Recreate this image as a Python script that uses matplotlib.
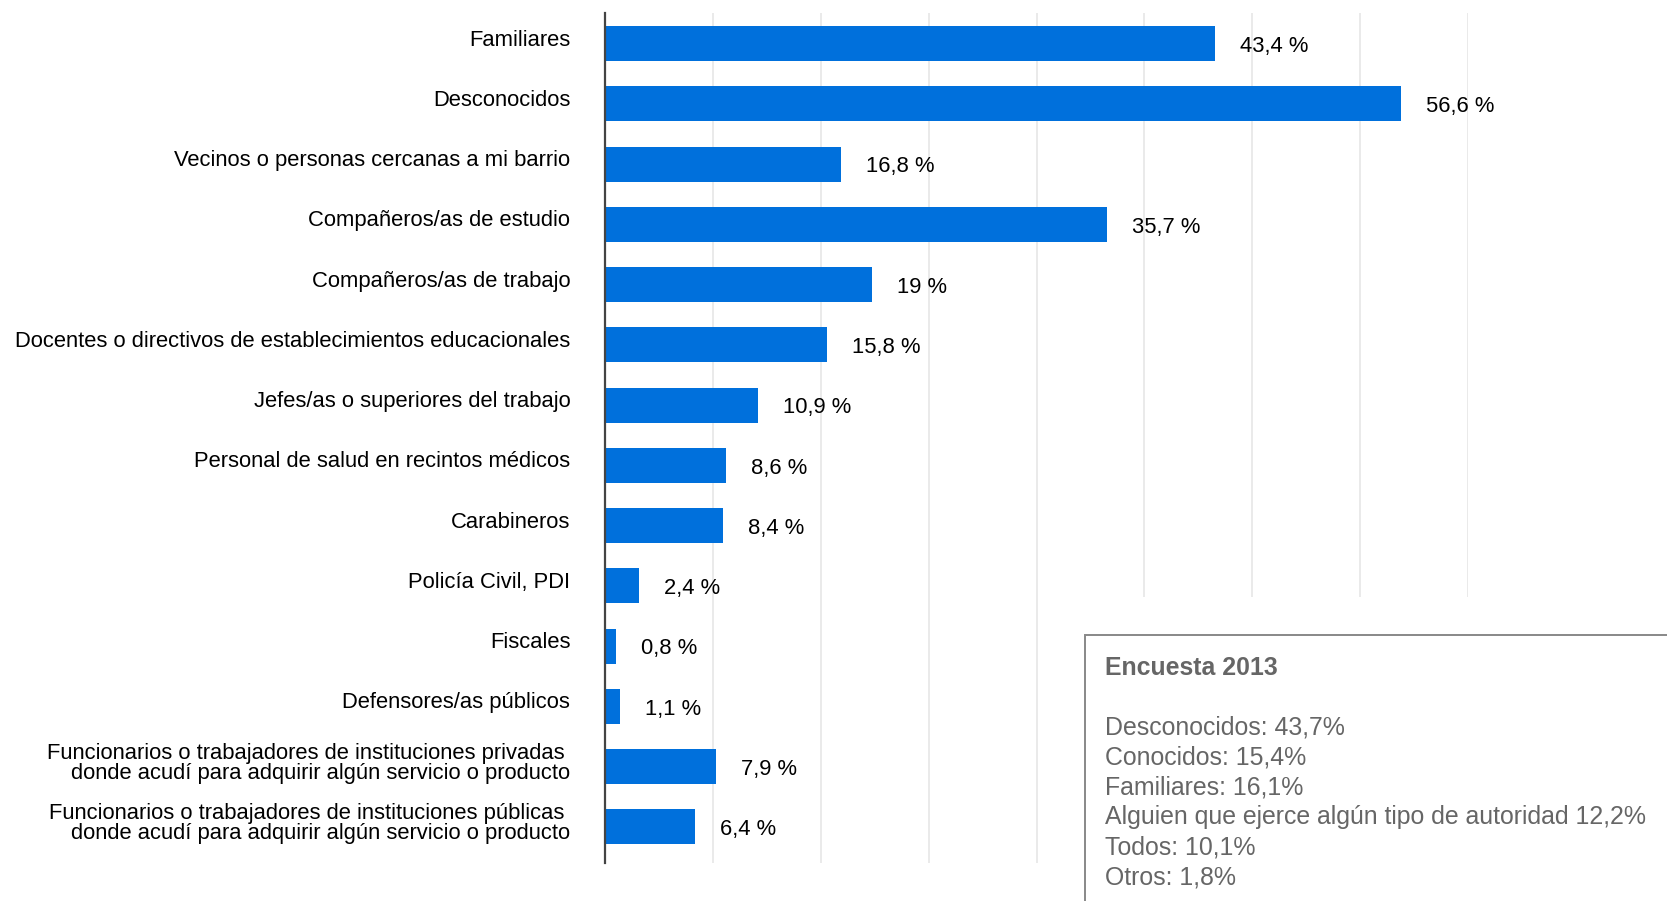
import matplotlib
matplotlib.use("Agg")
import matplotlib.pyplot as plt
from matplotlib.patches import Rectangle
import numpy as np

# Data
categories = [
    "Familiares",
    "Desconocidos",
    "Vecinos o personas cercanas a mi barrio",
    "Compañeros/as de estudio",
    "Compañeros/as de trabajo",
    "Docentes o directivos de establecimientos educacionales",
    "Jefes/as o superiores del trabajo",
    "Personal de salud en recintos médicos",
    "Carabineros",
    "Policía Civil, PDI",
    "Fiscales",
    "Defensores/as públicos",
    "Funcionarios o trabajadores de instituciones privadas \ndonde acudí para adquirir algún servicio o producto",
    "Funcionarios o trabajadores de instituciones públicas \ndonde acudí para adquirir algún servicio o producto",
]
values = [43.4, 56.6, 16.8, 35.7, 19.0, 15.8, 10.9, 8.6, 8.4, 2.4, 0.8, 1.1, 7.9, 6.4]

box_title = "Encuesta 2013"
box_lines = [
    "Desconocidos: 43,7%",
    "Conocidos: 15,4%",
    "Familiares: 16,1%",
    "Alguien que ejerce algún tipo de autoridad 12,2%",
    "Todos: 10,1%",
    "Otros: 1,8%",
]

font = "Liberation Sans"
label_size = 15.8
box_size = 17.9
bar_color = "#0070DC"

fig = plt.figure(figsize=(16.67, 9.01), dpi=100)
# axes: spine from y=13px to y=863px, x from 605px to 1468px
ax = fig.add_axes([605 / 1667, 38 / 901, (1468 - 605) / 1667, 850 / 901])

y = np.arange(len(categories))
ax.barh(y, values, height=0.58, color=bar_color, zorder=3)
ax.set_ylim(len(categories) - 0.4, -0.51)
xmax = 61.4
ax.set_xlim(0, xmax)

# light vertical gridlines
ax.set_xticks(np.linspace(0, xmax, 9)[1:])
ax.grid(axis="x", color="#e6e6e6", linewidth=1.2, zorder=0)
ax.tick_params(axis="x", length=0, labelbottom=False)
ax.set_yticks([])

for s in ["top", "right", "bottom"]:
    ax.spines[s].set_visible(False)
ax.spines["left"].set_color("#444444")
ax.spines["left"].set_linewidth(1.6)
ax.spines["left"].set_zorder(4)

# category labels, sitting a little above the bar centre
for yi, cat in zip(y, categories):
    ax.annotate(cat, (0, yi), xytext=(-25, 2.5), textcoords="offset points",
                va="center", ha="right", multialignment="right",
                linespacing=0.95, fontsize=label_size, family=font,
                color="black", annotation_clip=False)

# value labels
for yi, v in zip(y, values):
    txt = ("%g" % v).replace(".", ",") + " %"
    ax.annotate(txt, (v, yi), xytext=(18, -2), textcoords="offset points",
                va="center", ha="left", fontsize=label_size, family=font,
                color="black")

# note box bottom right
fig.add_artist(Rectangle((1090 / 1667, 0), 1, 1 - 597 / 901,
                         transform=fig.transFigure, facecolor="white",
                         edgecolor="none", zorder=10))
fig.add_artist(Rectangle((1085 / 1667, -0.01), 0.5, 1.01 - 635 / 901,
                         transform=fig.transFigure, facecolor="white",
                         edgecolor="#888888", linewidth=1.4, zorder=11))
fig.text(1105 / 1667, 1 - 668 / 901, box_title, fontsize=box_size, weight="bold",
         family=font, color="#666666", va="center", zorder=12)
for i, line in enumerate(box_lines):
    fig.text(1105 / 1667, 1 - (727 + 30 * i) / 901, line, fontsize=box_size,
             family=font, color="#666666", va="center", zorder=12)

fig.savefig("out.png", dpi=100)
